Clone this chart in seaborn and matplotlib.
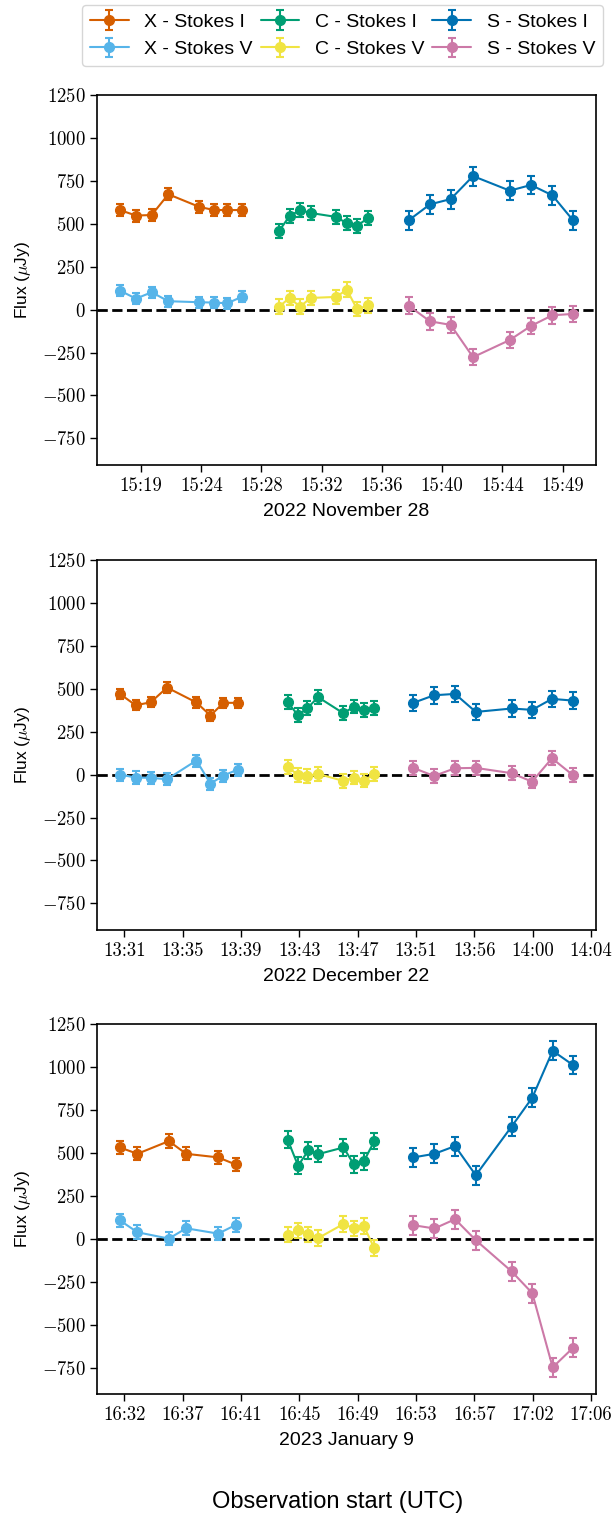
import matplotlib
matplotlib.use("Agg")
import matplotlib.pyplot as plt
import numpy as np
import seaborn as sns

# observation times are minutes past the hour in each session
dates = ["2022 November 28", "2022 December 22", "2023 January 9"]

t_x = [
    [17.91, 19.02, 20.11, 21.27, 23.43, 24.45, 25.37, 26.40],
    [30.65, 31.75, 32.81, 33.96, 36.02, 37.01, 37.92, 38.91],
    [32.16, 33.40, 35.64, 36.87, 39.15, 40.38],
]
t_c = [
    [28.95, 29.68, 30.41, 31.14, 32.91, 33.65, 34.37, 35.14],
    [42.43, 43.16, 43.82, 44.57, 46.35, 47.08, 47.78, 48.52],
    [44.09, 44.83, 45.57, 46.26, 48.06, 48.80, 49.51, 50.25],
]
t_s = [
    [37.94, 39.42, 40.86, 42.41, 44.96, 46.43, 47.91, 49.35],
    [51.26, 52.71, 54.19, 55.65, 58.17, 59.60, 61.00, 62.48],
    [53.03, 54.53, 56.00, 57.47, 60.02, 61.49, 62.94, 64.39],
]

x_i = [[580, 548, 551, 672, 598, 580, 580, 580],
       [470, 404, 421, 507, 420, 344, 418, 418],
       [533, 496, 570, 496, 475, 434]]
x_v = [[111, 64, 101, 49, 43, 41, 37, 76],
       [0, -17, -19, -27, 82, -52, -6, 29],
       [108, 39, 2, 62, 31, 81]]
c_i = [[458, 545, 580, 563, 540, 503, 489, 534],
       [421, 346, 387, 451, 357, 396, 375, 388],
       [578, 427, 516, 494, 533, 434, 452, 570]]
c_v = [[17, 68, 17, 68, 74, 116, 2, 25],
       [45, -2, -8, 4, -37, -17, -35, 2],
       [25, 50, 27, 5, 87, 62, 75, -54]]
s_i = [[520, 613, 644, 778, 693, 726, 666, 520],
       [418, 462, 470, 365, 385, 377, 441, 431],
       [475, 496, 541, 371, 655, 823, 1096, 1013]]
s_v = [[23, -68, -89, -277, -177, -95, -33, -25],
       [39, -8, 37, 39, 8, -41, 95, -4],
       [80, 61, 115, -7, -189, -316, -748, -634]]

# flux errors (uJy), one per band/Stokes per session
err_x_i = [35, 30, 39]
err_x_v = [32, 35, 40]
err_c_i = [40, 40, 48]
err_c_v = [42, 40, 45]
err_s_i = [55, 48, 55]
err_s_v = [48, 40, 55]

tick_pos = [
    [19.37, 23.55, 27.73, 31.91, 36.09, 40.27, 44.45, 48.63],
    [30.95, 35.05, 39.15, 43.25, 47.35, 51.45, 55.55, 59.65, 63.75],
    [32.47, 36.62, 40.77, 44.92, 49.07, 53.22, 57.37, 61.52, 65.67],
]
tick_labels = [
    ["15:19", "15:24", "15:28", "15:32", "15:36", "15:40", "15:44", "15:49"],
    ["13:31", "13:35", "13:39", "13:43", "13:47", "13:51", "13:56", "14:00", "14:04"],
    ["16:32", "16:37", "16:41", "16:45", "16:49", "16:53", "16:57", "17:02", "17:06"],
]
yticks = [-750, -500, -250, 0, 250, 500, 750, 1000, 1250]

series = [
    ("X - Stokes I", t_x, x_i, err_x_i, "#D55E00"),
    ("X - Stokes V", t_x, x_v, err_x_v, "#56B4E9"),
    ("C - Stokes I", t_c, c_i, err_c_i, "#009E73"),
    ("C - Stokes V", t_c, c_v, err_c_v, "#F0E442"),
    ("S - Stokes I", t_s, s_i, err_s_i, "#0072B2"),
    ("S - Stokes V", t_s, s_v, err_s_v, "#CC79A7"),
]

sns.set_theme(style="ticks")
plt.rcParams["font.family"] = ["Liberation Sans", "DejaVu Sans"]
plt.rcParams["mathtext.fontset"] = "cm"
plt.rcParams["axes.edgecolor"] = "black"
plt.rcParams["axes.labelcolor"] = "black"
plt.rcParams["text.color"] = "black"
plt.rcParams["xtick.color"] = "black"
plt.rcParams["ytick.color"] = "black"

fig = plt.figure(figsize=(6.13, 15.28), dpi=100)
left, width, height = 0.1587, 0.8131, 0.2421
bottoms = [0.6957, 0.3914, 0.0875]

handles = []
for k in range(3):
    ax = fig.add_axes([left, bottoms[k], width, height])
    for label, tt, vals, errs, col in series:
        h = ax.errorbar(tt[k], vals[k], yerr=errs[k], fmt="o-", color=col,
                        ms=7, lw=1.5, elinewidth=1.5, capsize=3, capthick=1.5,
                        label=label)
        if k == 0:
            handles.append(h)
    ax.axhline(0, color="black", ls="--", lw=2, zorder=0)
    ax.set_ylim(-905, 1250)
    ax.set_yticks(yticks)
    ax.set_yticklabels([f"${v}$" for v in yticks])
    ax.set_xticks(tick_pos[k])
    ax.set_xticklabels(tick_labels[k], fontfamily="cmr10")
    ax.tick_params(labelsize=13.5, length=5, width=1)
    for sp in ax.spines.values():
        sp.set_linewidth(1.2)
    ax.set_xlabel(dates[k], fontsize=14, labelpad=6)
    ax.set_ylabel(r"Flux ($\mu$Jy)", fontsize=12.5, labelpad=6)

fig.legend(handles, [s[0] for s in series], ncol=3, loc="upper right",
           bbox_to_anchor=(0.99, 0.999), fontsize=14, columnspacing=0.4,
           handletextpad=0.8, borderaxespad=0.2)
fig.text(0.551, 0.0099, "Observation start (UTC)", ha="center", va="bottom", fontsize=17)

fig.savefig("out.png", dpi=100)
